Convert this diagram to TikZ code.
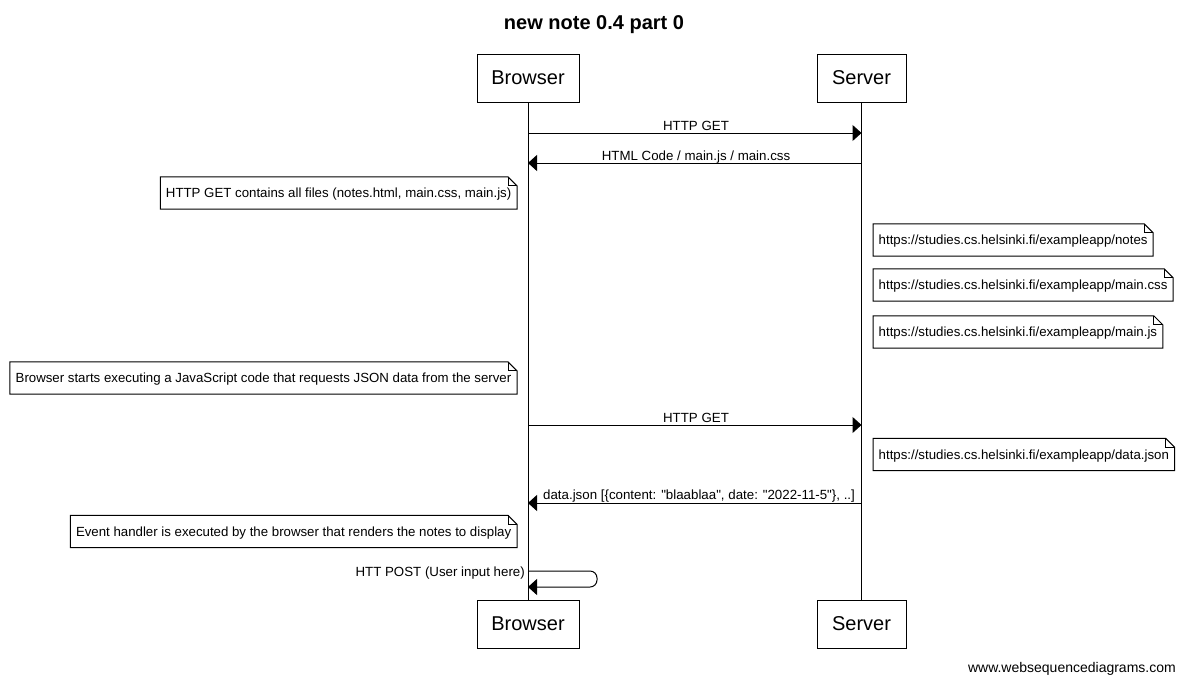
\documentclass[tikz,border=0pt]{standalone}
\usepackage{fontspec}
\setmainfont{Liberation Sans}
\newfontfamily\plainq{Liberation Sans}
\usetikzlibrary{arrows.meta}
\tikzset{
  actorbox/.style={draw, line width=1pt, minimum height=48pt, inner sep=0pt, font=\fontsize{20}{24}\selectfont},
  msg/.style={line width=1pt, -{Triangle[length=9pt,width=16pt]}},
  lbl/.style={font=\fontsize{13.3}{15}\selectfont, inner sep=0pt},
  notetext/.style={font=\fontsize{13.25}{15}\selectfont, inner xsep=5.5pt, minimum height=32pt, text depth=3pt, text height=12.5pt},
  notebox/.style={line width=1pt, fill=white}
}
\newcommand\foldnote[1]{%
  \draw[notebox] (#1.south west) -- (#1.north west) -- ([xshift=-9pt]#1.north east) -- ([yshift=-9pt]#1.north east) -- (#1.south east) -- cycle;
  \draw[line width=0.8pt] ([xshift=-9pt]#1.north east) -- ([xshift=-9pt,yshift=-9pt]#1.north east) -- ([yshift=-9pt]#1.north east);
}
\newcommand\dq{{\plainq\symbol{34}}}
\begin{document}
\begin{tikzpicture}[x=1pt,y=-1pt]
\useasboundingbox[fill=white] (0,0) rectangle (1185,683);
% title
\node[font=\bfseries\fontsize{20}{24}\selectfont, anchor=base, inner sep=0pt] (title) at (594,29.5) {new note 0.4 part 0};
% participants
\node[actorbox, minimum width=102pt] (bt) at (528,78) {Browser};
\node[actorbox, minimum width=89pt] (st) at (861.5,78) {Server};
\node[actorbox, minimum width=102pt] (bb) at (528,624) {Browser};
\node[actorbox, minimum width=89pt] (sb) at (861.5,624) {Server};
% lifelines
\draw[line width=1pt] (bt.south) -- (bb.north);
\draw[line width=1pt] (st.south) -- (sb.north);
% message coordinates
\coordinate (b1) at (528,133); \coordinate (s1) at (861.5,133);
\coordinate (b2) at (528,163); \coordinate (s2) at (861.5,163);
\coordinate (b3) at (528,425); \coordinate (s3) at (861.5,425);
\coordinate (b4) at (528,503); \coordinate (s4) at (861.5,503);
\coordinate (b5) at (528,571); \coordinate (c5a) at (597,571);
\coordinate (c5b) at (597,587); \coordinate (b6) at (528,587);
% messages
\draw[msg] (b1) -- (s1);
\node[lbl, anchor=base] (m1) at (696,130.5) {HTTP GET};
\draw[msg] (s2) -- (b2);
\node[lbl, anchor=base] (m2) at (696,160.5) {HTML Code / main.js / main.css};
\draw[msg] (b3) -- (s3);
\node[lbl, anchor=base] (m3) at (696,422.5) {HTTP GET};
\draw[msg] (s4) -- (b4);
\node[lbl, anchor=base west] (m4) at (543,499.5) {data.json [\{content: \dq blaablaa\dq, date: \dq 2022-11-5\dq\}, ..]};
\draw[msg, rounded corners=7pt] (b5) -- (c5a) -- (c5b) -- (b6);
\node[lbl, anchor=base east] (m5) at (525,576) {HTT POST (User input here)};
% notes
\node[notetext, anchor=east] (n1) at (517,193) {HTTP GET contains all files (notes.html, main.css, main.js)};
\foldnote{n1}
\node[notetext, anchor=east] at (n1.east) {HTTP GET contains all files (notes.html, main.css, main.js)};
\node[notetext, anchor=west] (n2) at (873,240) {https://studies.cs.helsinki.fi/exampleapp/notes};
\foldnote{n2}
\node[notetext, anchor=west] at (n2.west) {https://studies.cs.helsinki.fi/exampleapp/notes};
\node[notetext, anchor=west] (n3) at (873,285) {https://studies.cs.helsinki.fi/exampleapp/main.css};
\foldnote{n3}
\node[notetext, anchor=west] at (n3.west) {https://studies.cs.helsinki.fi/exampleapp/main.css};
\node[notetext, anchor=west] (n4) at (873,332) {https://studies.cs.helsinki.fi/exampleapp/main.js};
\foldnote{n4}
\node[notetext, anchor=west] at (n4.west) {https://studies.cs.helsinki.fi/exampleapp/main.js};
\node[notetext, anchor=east] (n5) at (517,378) {Browser starts executing a JavaScript code that requests JSON data from the server};
\foldnote{n5}
\node[notetext, anchor=east] at (n5.east) {Browser starts executing a JavaScript code that requests JSON data from the server};
\node[notetext, anchor=west] (n6) at (873,454.5) {https://studies.cs.helsinki.fi/exampleapp/data.json};
\foldnote{n6}
\node[notetext, anchor=west] at (n6.west) {https://studies.cs.helsinki.fi/exampleapp/data.json};
\node[notetext, anchor=east] (n7) at (517,531.5) {Event handler is executed by the browser that renders the notes to display};
\foldnote{n7}
\node[notetext, anchor=east] at (n7.east) {Event handler is executed by the browser that renders the notes to display};
% footer
\node[font=\fontsize{14}{16}\selectfont, inner sep=0pt, anchor=base east] (footer) at (1176,672.5) {www.websequencediagrams.com};
\end{tikzpicture}
\end{document}
